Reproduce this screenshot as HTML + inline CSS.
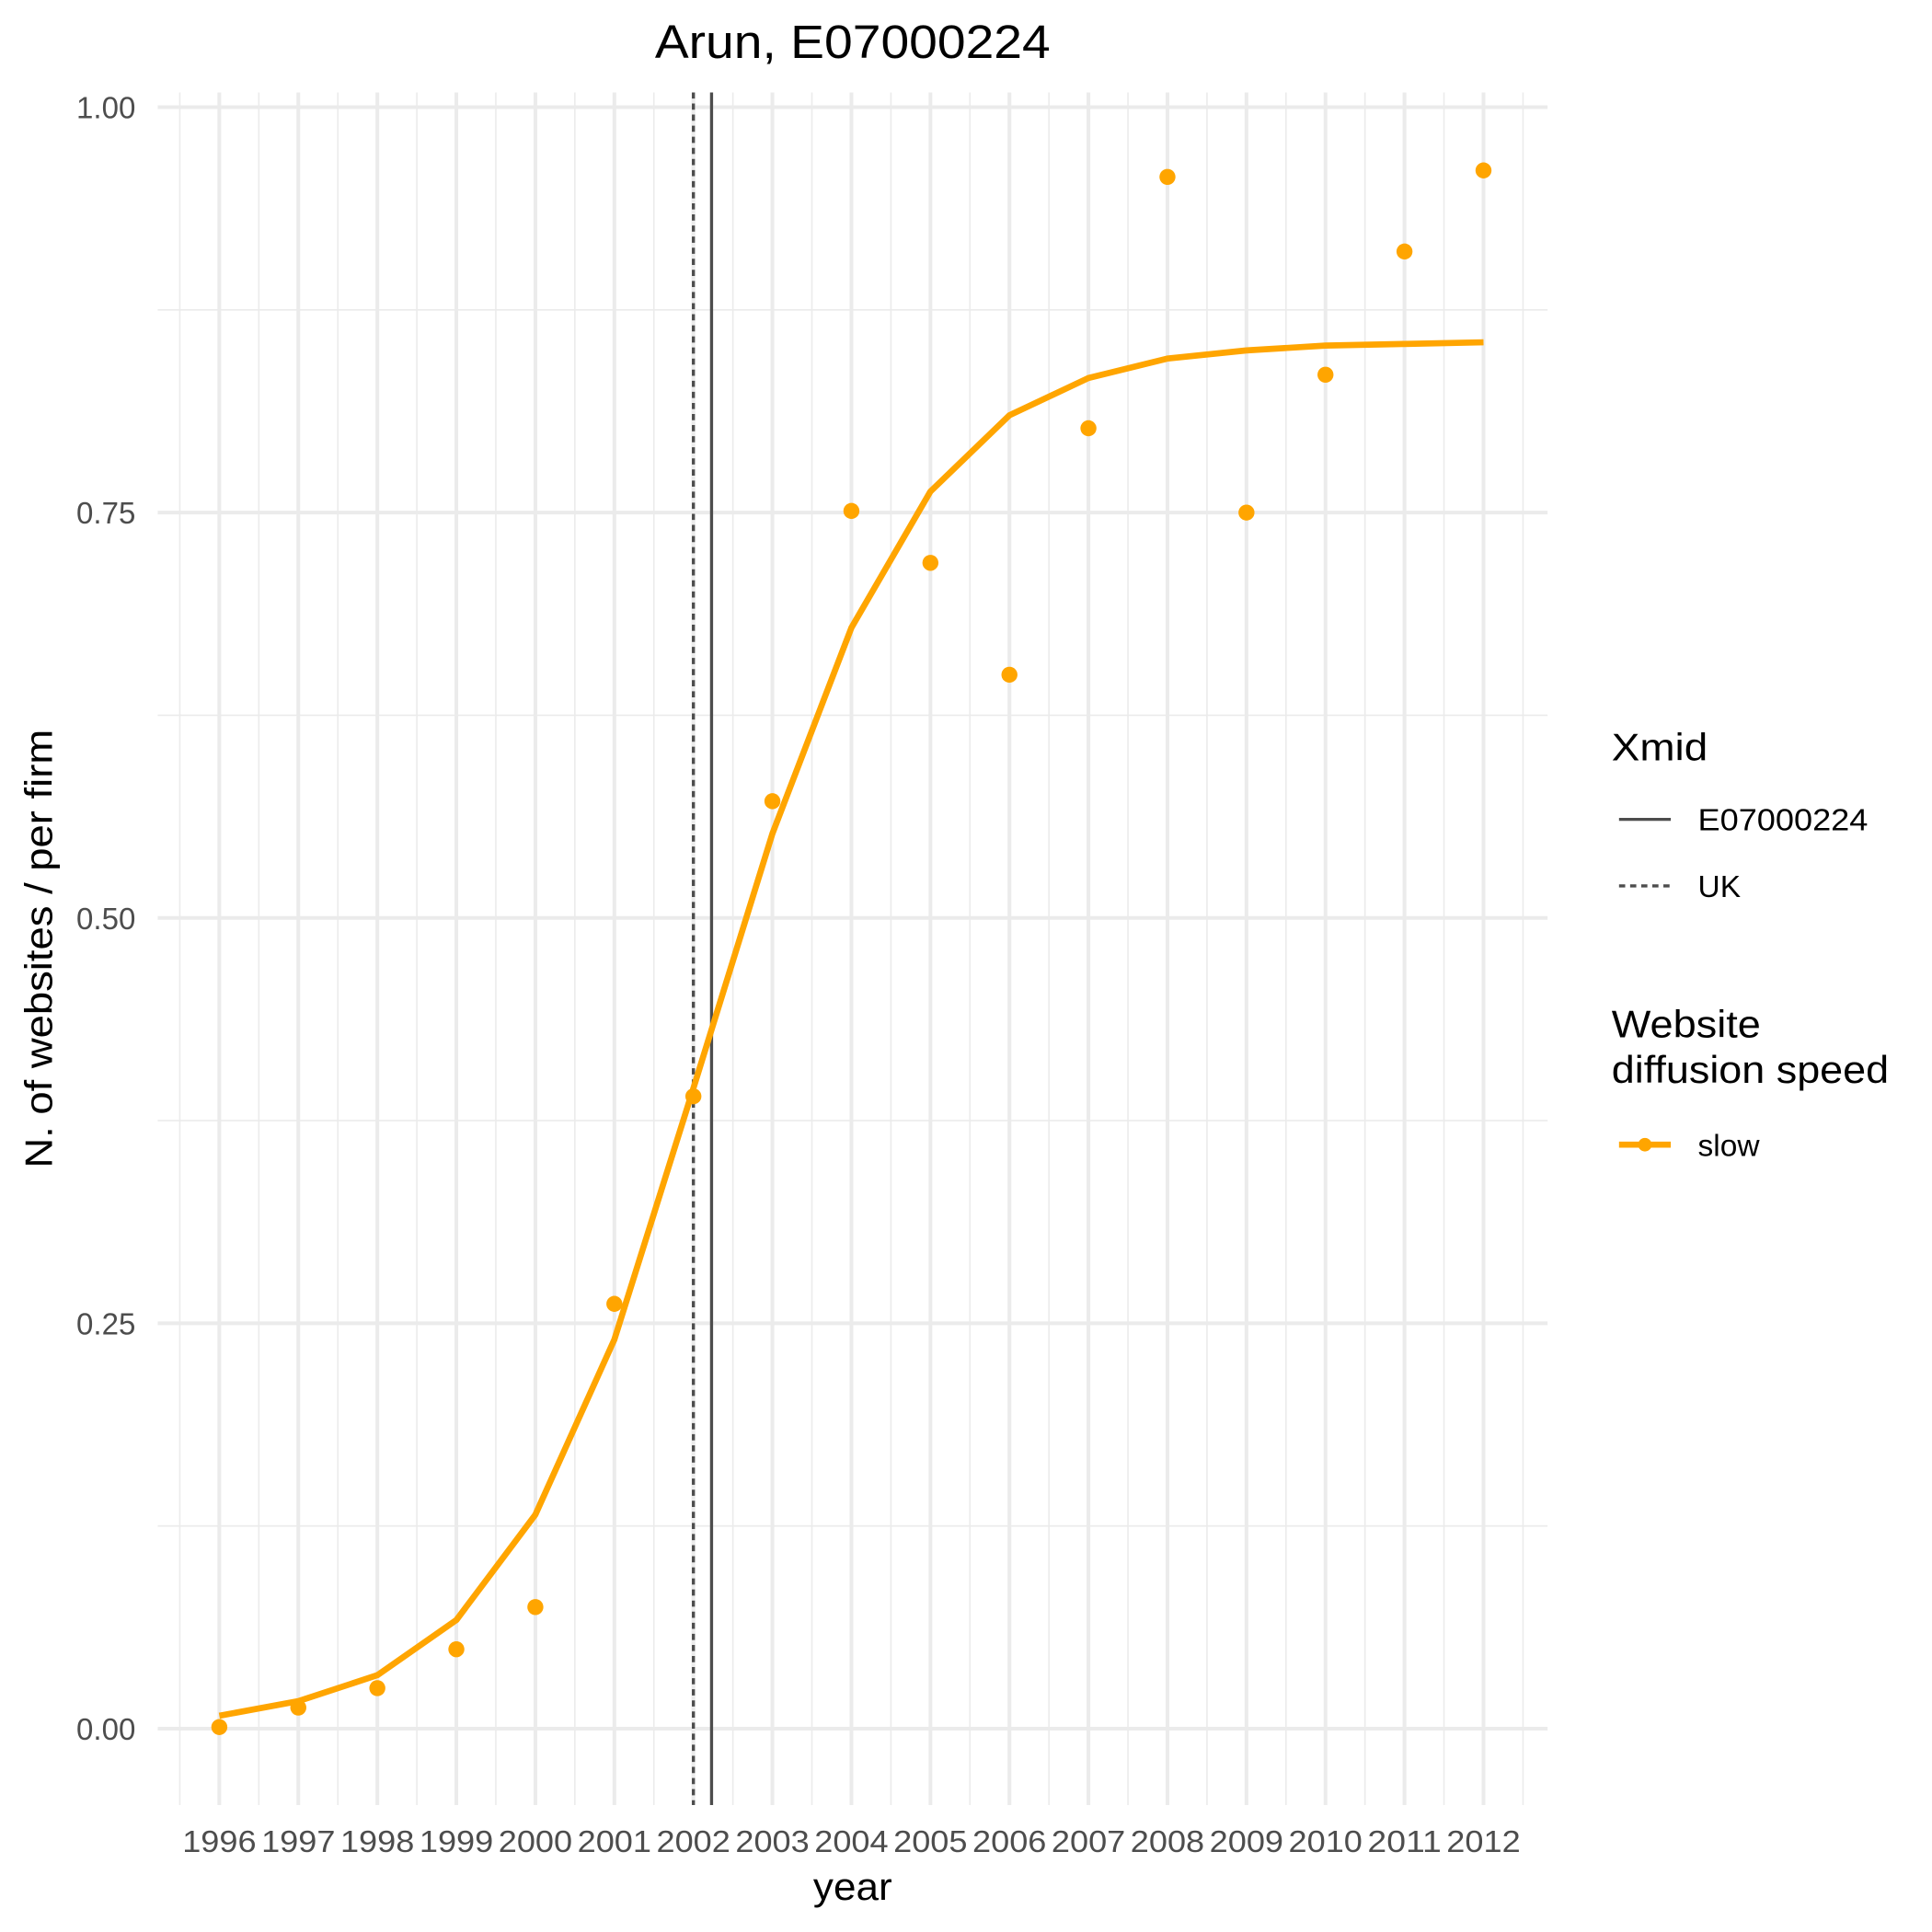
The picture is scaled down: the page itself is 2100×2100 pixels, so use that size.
<!DOCTYPE html>
<html><head><meta charset="utf-8"><style>html,body{margin:0;padding:0;background:#fff}svg{display:block}text{font-family:"Liberation Sans",Arial,sans-serif}</style></head>
<body>
<svg id="chart" width="2100" height="2100" viewBox="0 0 1568 1568" xmlns="http://www.w3.org/2000/svg">
<g id="grid"></g>
<g id="marks"></g>
<text x="692" y="47" font-size="38" text-anchor="middle" textLength="321" lengthAdjust="spacingAndGlyphs" fill="#000">Arun, E07000224</text>
<text x="692" y="1542" font-size="31" text-anchor="middle" textLength="64" lengthAdjust="spacingAndGlyphs" fill="#000">year</text>
<text transform="translate(42,770) rotate(-90)" font-size="31" text-anchor="middle" textLength="356" lengthAdjust="spacingAndGlyphs" fill="#000">N. of websites / per firm</text>
<g>
<text x="1308" y="617" font-size="31" textLength="78" lengthAdjust="spacingAndGlyphs">Xmid</text>
<line x1="1314" x2="1356" y1="665" y2="665" stroke="#4d4d4d" stroke-width="2.5"/>
<text x="1378" y="674" font-size="25" textLength="138" lengthAdjust="spacingAndGlyphs">E07000224</text>
<line x1="1314" x2="1356" y1="719" y2="719" stroke="#4d4d4d" stroke-width="2.5" stroke-dasharray="5,4"/>
<text x="1378" y="728" font-size="25">UK</text>
</g>
<g>
<text x="1308" y="842" font-size="31" textLength="121" lengthAdjust="spacingAndGlyphs">Website</text>
<text x="1308" y="879" font-size="31" textLength="225" lengthAdjust="spacingAndGlyphs">diffusion speed</text>
<line x1="1314" x2="1356" y1="929" y2="929" stroke="#FFA500" stroke-width="5"/>
<circle cx="1335" cy="929" r="5.5" fill="#FFA500"/>
<text x="1378" y="938" font-size="25">slow</text>
</g>
</svg>
<script>
const years = [1996,1997,1998,1999,2000,2001,2002,2003,2004,2005,2006,2007,2008,2009,2010,2011,2012];
const observed = [0.001,0.013,0.025,0.049,0.075,0.262,0.39,0.572,0.751,0.719,0.650,0.802,0.957,0.750,0.835,0.911,0.961];
const fitted = [0.008,0.017,0.033,0.067,0.132,0.240,0.395,0.552,0.679,0.763,0.810,0.833,0.845,0.850,0.853,0.854,0.855];
const yTicks = [0,0.25,0.5,0.75,1.0];
const yTickLabels = ["0.00","0.25","0.50","0.75","1.00"];
const xmidRegion = 2002.23;
const xmidUK = 2002.0;

const NS="http://www.w3.org/2000/svg";
const X0=128,X1=1256,Y0=75,Y1=1465;
function xs(v){return 178+(v-1996)*(1204-178)/16;}
function ys(v){return 1403-v*(1403-87);}
function mk(tag,attrs,parent){const e=document.createElementNS(NS,tag);for(const k in attrs)e.setAttribute(k,attrs[k]);parent.appendChild(e);return e;}
const grid=document.getElementById('grid'), marks=document.getElementById('marks'), svg=document.getElementById('chart');
for(let i=0;i<years.length+1;i++){
  const v=years[0]-0.5+i;
  const l=mk('line',{x1:xs(v),x2:xs(v),y1:Y0,y2:Y1,stroke:'#ebebeb','stroke-width':1.2},grid);
  
  
}
for(let i=0;i<yTicks.length-1;i++){
  const v=(yTicks[i]+yTicks[i+1])/2;
  const l=mk('line',{x1:X0,x2:X1,y1:ys(v),y2:ys(v),stroke:'#ebebeb','stroke-width':1.2},grid);
  
  
}
years.forEach(yr=>{
  const l=mk('line',{x1:xs(yr),x2:xs(yr),y1:Y0,y2:Y1,stroke:'#ebebeb','stroke-width':3},grid);
  
  
  const t=mk('text',{x:xs(yr),y:1503,'font-size':25,'text-anchor':'middle',fill:'#4d4d4d',textLength:60,lengthAdjust:'spacingAndGlyphs'},svg);
  t.textContent=yr;
  
  
});
yTicks.forEach((v,i)=>{
  const l=mk('line',{x1:X0,x2:X1,y1:ys(v),y2:ys(v),stroke:'#ebebeb','stroke-width':3},grid);
  
  
  const t=mk('text',{x:110,y:ys(v)+9,'font-size':25,'text-anchor':'end',fill:'#4d4d4d',textLength:48,lengthAdjust:'spacingAndGlyphs'},svg);
  t.textContent=yTickLabels[i];
  
  
});
const v1=mk('line',{x1:xs(xmidUK),x2:xs(xmidUK),y1:Y0,y2:Y1,stroke:'#4d4d4d','stroke-width':2.5,'stroke-dasharray':'5,4'},marks);


const v2=mk('line',{x1:xs(xmidRegion),x2:xs(xmidRegion),y1:Y0,y2:Y1,stroke:'#4d4d4d','stroke-width':2.5},marks);


const pl=mk('polyline',{points:years.map((y,i)=>xs(y)+','+ys(fitted[i])).join(' '),fill:'none',stroke:'#FFA500','stroke-width':5,'stroke-linejoin':'round'},marks);


years.forEach((y,i)=>{
  const c=mk('circle',{cx:xs(y),cy:ys(observed[i]),r:6.5,fill:'#FFA500'},marks);
  
  
});
</script>
</body></html>
